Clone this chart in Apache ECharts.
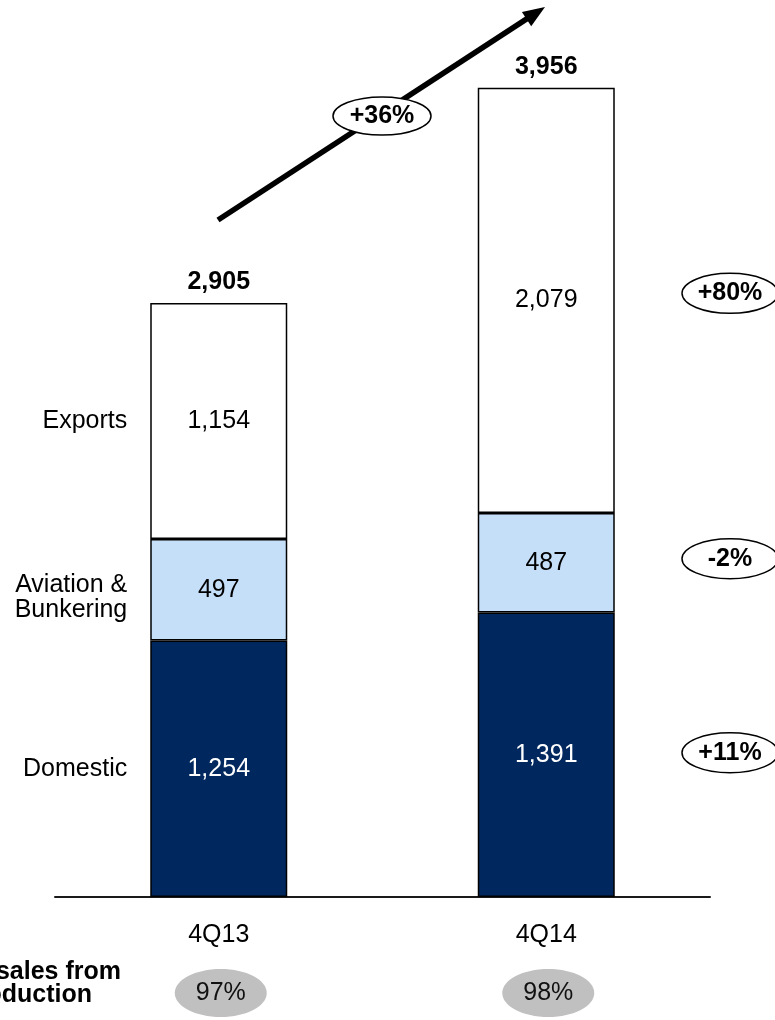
<!DOCTYPE html>
<html>
<head>
<meta charset="utf-8">
<script src="https://cdn.jsdelivr.net/npm/echarts@6/dist/echarts.min.js"></script>
<style>
  html, body { margin: 0; padding: 0; background: #ffffff; }
  #chart { width: 775px; height: 1020px; }
</style>
</head>
<body>
<div id="chart"></div>
<script>
// Sales volumes by destination, stacked per quarter
const quarters = ['4Q13', '4Q14'];
const segmentNames = ['Domestic', 'Aviation &\nBunkering', 'Exports'];
const domestic = [1254, 1391];
const aviation = [497, 487];
const exportsVol = [1154, 2079];
const totals = [2905, 3956];
const ownProductionShare = ['97%', '98%'];
const sideTitle = ['% of sales from', 'own production'];

const FONT = "'Liberation Sans', Arial, Helvetica, sans-serif";
const NAVY = '#00285e';
const LIGHT = '#c6dff8';
const FS = 25;

const fmt = v => v.toLocaleString('en-US');
const growth = (a, b) => {
  const p = Math.round((b / a - 1) * 100);
  return (p > 0 ? '+' : '') + p + '%';
};

const chart = echarts.init(document.getElementById('chart'), null, { renderer: 'canvas' });

function segment(name, data, color, textColor) {
  return {
    name: name,
    type: 'bar',
    stack: 'vol',
    barWidth: 137,
    data: data,
    itemStyle: { color: color, borderColor: '#000', borderWidth: 1.5 },
    label: {
      show: true,
      position: 'inside',
      formatter: p => fmt(p.value),
      color: textColor,
      fontFamily: FONT,
      fontSize: FS
    },
    emphasis: { disabled: true },
    silent: true
  };
}

chart.setOption({
  animation: false,
  backgroundColor: '#ffffff',
  grid: { left: 55, right: 65, top: 79, bottom: 123 },
  xAxis: {
    type: 'category',
    data: quarters,
    axisLine: { show: true, lineStyle: { color: '#1a1a1a', width: 2 } },
    axisTick: { show: false },
    axisLabel: { margin: 26, color: '#000', fontFamily: FONT, fontSize: FS }
  },
  yAxis: {
    type: 'value',
    min: 0,
    max: 4000,
    show: false,
    splitLine: { show: false }
  },
  series: [
    segment('Domestic', domestic, NAVY, '#ffffff'),
    segment('Aviation & Bunkering', aviation, LIGHT, '#000000'),
    segment('Exports', exportsVol, '#ffffff', '#000000'),
    {
      name: 'Total',
      type: 'bar',
      stack: 'vol',
      barWidth: 137,
      data: totals.map(() => 0),
      itemStyle: { color: 'transparent' },
      label: {
        show: true,
        position: 'top',
        distance: 8,
        formatter: p => fmt(totals[p.dataIndex]),
        color: '#000',
        fontFamily: FONT,
        fontSize: FS,
        fontWeight: 'bold'
      },
      silent: true
    }
  ]
});

// Annotations placed from the chart's own scales
const px = (i) => chart.convertToPixel({ xAxisIndex: 0 }, quarters[i]);
const py = (v) => chart.convertToPixel({ yAxisIndex: 0 }, v);

const graphics = [];

// Segment names beside the first bar
const firstBarLeft = px(0) - 137 / 2;
const segMid = (i) => [
  (py(0) + py(domestic[i])) / 2,
  (py(domestic[i]) + py(domestic[i] + aviation[i])) / 2,
  (py(domestic[i] + aviation[i]) + py(domestic[i] + aviation[i] + exportsVol[i])) / 2
];
const mid0 = segMid(0);
segmentNames.forEach((name, k) => {
  graphics.push({
    type: 'text',
    x: firstBarLeft - 23,
    y: mid0[k] + (k === 1 ? 8 : 0),
    style: {
      text: name,
      fill: '#000',
      font: FS + 'px ' + FONT,
      align: 'right',
      verticalAlign: 'middle',
      lineHeight: 25
    }
  });
});

// Growth bubbles for each segment at the right
const mid1 = segMid(1);
const segGrowth = [
  growth(domestic[0], domestic[1]),
  growth(aviation[0], aviation[1]),
  growth(exportsVol[0], exportsVol[1])
];
const bubbleOffset = [-2, -4, -7];
segGrowth.forEach((g, k) => {
  const cy = mid1[k] + bubbleOffset[k];
  graphics.push({
    type: 'ellipse',
    shape: { cx: 730, cy: cy, rx: 48, ry: 20 },
    style: { fill: '#ffffff', stroke: '#000', lineWidth: 1.5 }
  });
  graphics.push({
    type: 'text',
    x: 730, y: cy,
    style: {
      text: g, fill: '#000', font: 'bold ' + FS + 'px ' + FONT,
      align: 'center', verticalAlign: 'middle'
    }
  });
});

// Total growth arrow
const a0 = [218, 220], a1 = [545, 7];
const dx = a1[0] - a0[0], dy = a1[1] - a0[1];
const len = Math.sqrt(dx * dx + dy * dy);
const ux = dx / len, uy = dy / len;
const headLen = 22, headHalf = 8.5;
const base = [a1[0] - ux * headLen, a1[1] - uy * headLen];
graphics.push({
  type: 'line',
  shape: { x1: a0[0], y1: a0[1], x2: base[0] + ux * 2, y2: base[1] + uy * 2 },
  style: { stroke: '#000', lineWidth: 5.5 }
});
graphics.push({
  type: 'polygon',
  shape: {
    points: [
      a1,
      [base[0] - uy * headHalf, base[1] + ux * headHalf],
      [base[0] + uy * headHalf, base[1] - ux * headHalf]
    ]
  },
  style: { fill: '#000' }
});
graphics.push({
  type: 'ellipse',
  shape: { cx: 382, cy: 116, rx: 49, ry: 19 },
  style: { fill: '#ffffff', stroke: '#000', lineWidth: 1.5 }
});
graphics.push({
  type: 'text',
  x: 382, y: 116,
  style: {
    text: growth(totals[0], totals[1]), fill: '#000',
    font: 'bold ' + FS + 'px ' + FONT, align: 'center', verticalAlign: 'middle'
  }
});

// Share of sales from own production
graphics.push({
  type: 'text', x: 121, y: 972,
  style: { text: sideTitle[0], fill: '#000', font: 'bold ' + FS + 'px ' + FONT, align: 'right', verticalAlign: 'middle' }
});
graphics.push({
  type: 'text', x: 92, y: 995,
  style: { text: sideTitle[1], fill: '#000', font: 'bold ' + FS + 'px ' + FONT, align: 'right', verticalAlign: 'middle' }
});
ownProductionShare.forEach((s, i) => {
  const cx = px(i) + 2;
  graphics.push({
    type: 'ellipse',
    shape: { cx: cx, cy: 993, rx: 46, ry: 24 },
    style: { fill: '#c0c0c0' }
  });
  graphics.push({
    type: 'text', x: cx, y: 993,
    style: { text: s, fill: '#111', font: FS + 'px ' + FONT, align: 'center', verticalAlign: 'middle' }
  });
});

chart.setOption({ graphic: graphics });
</script>
</body>
</html>
